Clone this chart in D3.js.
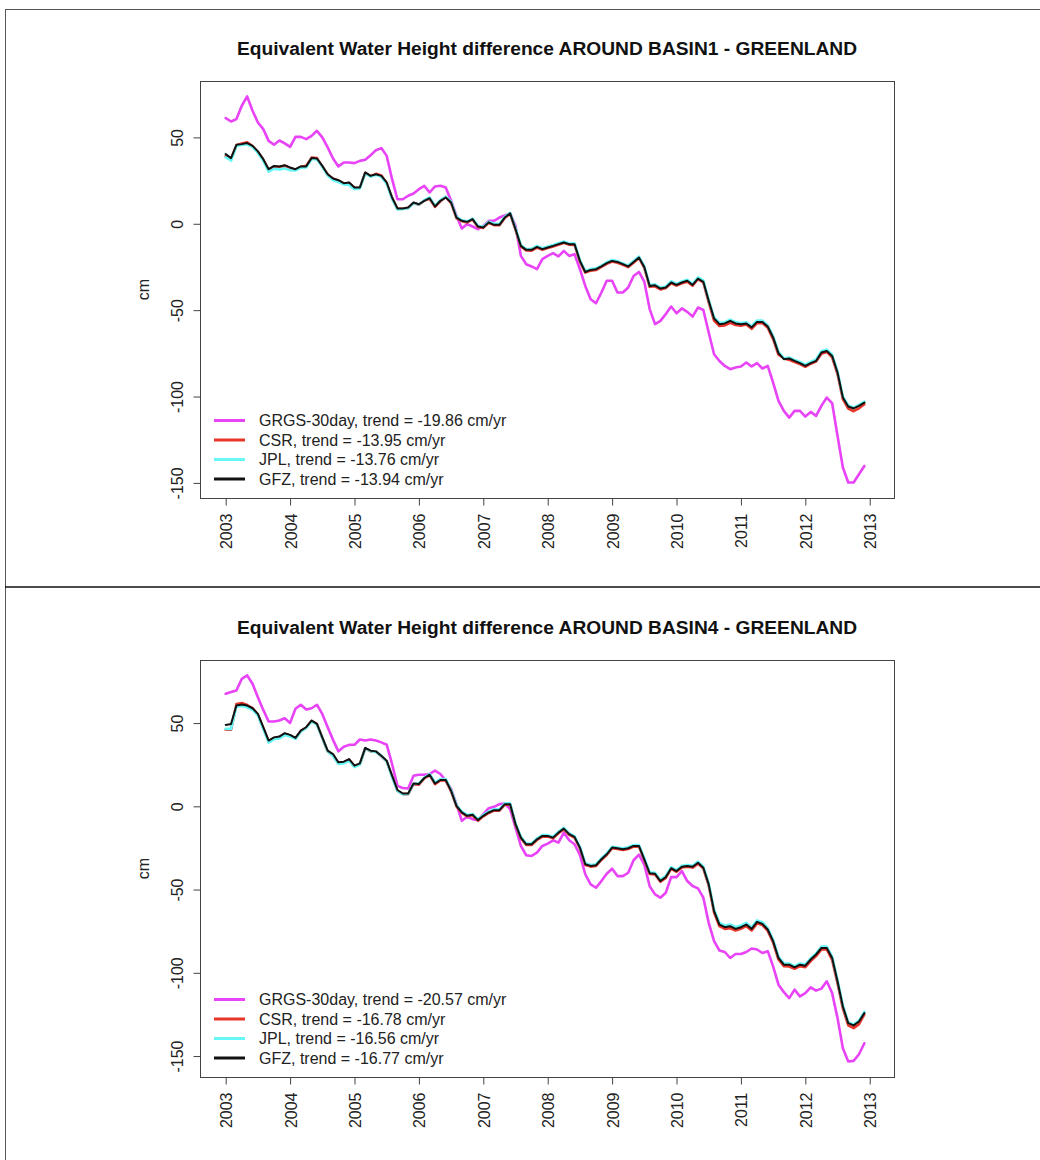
<!DOCTYPE html>
<html><head><meta charset="utf-8">
<script src="https://cdn.jsdelivr.net/npm/d3@7"></script>
<style>body{margin:0;background:#fff}svg{display:block}</style>
</head><body>
<script>
const titles = ["Equivalent Water Height difference AROUND BASIN1 - GREENLAND",
                "Equivalent Water Height difference AROUND BASIN4 - GREENLAND"];
const seriesNames = ["GRGS-30day","CSR","JPL","GFZ"];
const seriesColors = ["#e843f7","#e8352a","#66f7f7","#111111"];
const trends1 = ["-19.86","-13.95","-13.76","-13.94"];
const trends2 = ["-20.57","-16.78","-16.56","-16.77"];
const yearTicks = [2003,2004,2005,2006,2007,2008,2009,2010,2011,2012,2013];
const cmTicks = [50,0,-50,-100,-150];
const startYear = 2003;

// Basin 1 monthly values (cm), Jan 2003 .. Dec 2012
const b1_GRGS = [61.1,59.2,60.6,68.3,73.7,65.4,58.6,54.8,48.0,45.7,48.2,46.5,
44.5,50.3,50.3,49.0,50.9,53.8,50.0,44.2,37.8,33.2,35.5,35.5,
35.1,36.4,37.0,39.7,42.6,43.8,39.3,25.8,14.2,14.2,16.2,17.5,
20.0,21.9,18.1,21.6,22.0,21.0,13.3,4.6,-2.7,-0.2,-1.6,-3.1,
-1.2,1.7,1.7,3.6,4.8,6.0,-1.2,-18.6,-23.4,-24.7,-26.3,-20.5,
-18.6,-17.0,-18.9,-15.7,-18.6,-17.6,-26.3,-36.0,-43.7,-46.0,-39.8,-33.0,
-33.0,-39.8,-39.8,-36.9,-30.2,-27.9,-33.5,-49.4,-58.1,-56.2,-52.3,-47.9,
-51.8,-49.0,-51.0,-53.7,-48.5,-49.9,-62.9,-75.5,-79.4,-82.3,-84.2,-83.2,
-82.6,-80.3,-82.6,-80.7,-83.8,-82.3,-91.9,-102.5,-108.3,-112.2,-108.3,-108.3,
-111.6,-108.9,-111.2,-105.4,-100.6,-103.9,-122.8,-141.1,-149.8,-149.8,-145.0,-140.2];
const b1_CSR = [39.0,37.5,45.5,46.5,47.2,45.0,41.5,37.0,31.0,33.0,32.8,33.5,
32.2,31.2,33.0,33.5,38.3,38.0,33.2,28.5,26.0,25.0,23.2,23.6,
20.7,20.8,29.5,27.5,28.9,27.9,23.5,15.0,8.6,8.7,9.2,12.0,
11.0,13.5,14.5,9.8,13.0,15.5,12.0,3.3,1.5,0.8,2.5,-1.8,
-2.4,0.5,-0.8,-0.9,3.3,5.8,-3.5,-13.2,-15.5,-15.6,-13.8,-15.0,
-14.0,-13.1,-12.2,-11.0,-12.1,-12.2,-21.9,-28.3,-27.1,-26.8,-25.0,-23.2,
-21.9,-22.6,-23.8,-25.1,-22.5,-19.8,-25.5,-36.5,-36.2,-38.0,-37.2,-34.5,
-35.8,-34.5,-33.5,-35.8,-32.0,-34.0,-45.5,-56.0,-59.2,-58.8,-57.3,-58.6,
-59.0,-58.3,-60.8,-57.5,-57.4,-60.2,-66.8,-75.8,-77.8,-78.8,-80.0,-81.2,
-82.8,-81.0,-79.8,-75.2,-74.2,-77.3,-87.0,-101.5,-107.0,-108.5,-106.8,-104.5];
const b1_JPL = [38.5,36.5,45.0,45.6,46.0,44.5,41.0,36.5,30.2,31.8,31.5,32.0,
31.0,30.8,32.5,32.6,37.5,37.2,33.0,28.0,25.3,24.2,22.8,22.5,
20.0,20.4,29.2,27.2,28.3,27.2,23.2,14.5,8.3,8.5,9.0,12.0,
11.2,13.6,15.2,10.5,13.7,15.6,12.8,4.0,2.0,1.4,3.0,-1.2,
-1.7,1.2,0.0,0.0,4.0,6.3,-2.6,-12.3,-14.6,-14.6,-12.8,-14.2,
-13.2,-12.3,-11.3,-10.3,-11.4,-11.3,-21.0,-27.4,-26.2,-25.8,-24.2,-22.3,
-21.0,-21.6,-22.9,-24.2,-21.6,-19.0,-24.5,-35.5,-35.0,-37.0,-36.3,-33.3,
-34.8,-33.4,-32.4,-34.8,-31.0,-32.8,-44.0,-54.2,-57.3,-57.0,-55.5,-56.9,
-57.4,-57.0,-59.3,-56.0,-56.0,-58.8,-65.0,-74.2,-77.8,-77.4,-78.8,-80.0,
-81.6,-80.0,-78.6,-73.8,-72.8,-75.8,-85.4,-100.0,-105.2,-106.4,-104.8,-103.0];
const b1_GFZ = [40.3,38.0,45.7,46.1,46.7,45.1,41.9,37.4,31.6,33.5,33.2,33.9,
32.6,31.6,33.2,33.2,38.0,37.8,33.5,28.7,26.2,25.2,23.5,23.9,
21.0,21.0,29.7,27.7,28.7,27.7,23.9,15.2,8.9,8.9,9.4,12.3,
11.3,13.3,14.8,10.0,13.3,15.2,12.3,3.6,1.7,1.1,2.7,-1.6,
-2.1,0.8,-0.6,-0.6,3.6,6.0,-3.1,-12.8,-15.1,-15.1,-13.4,-14.7,
-13.7,-12.8,-11.8,-10.8,-11.8,-11.8,-21.5,-27.9,-26.7,-26.3,-24.7,-22.8,
-21.5,-22.1,-23.4,-24.7,-22.1,-19.5,-25.0,-36.0,-35.6,-37.5,-36.9,-34.0,
-35.4,-34.0,-33.0,-35.4,-31.7,-33.6,-44.6,-54.8,-58.1,-57.7,-56.2,-57.7,
-58.1,-57.7,-60.0,-56.8,-56.8,-59.5,-65.8,-74.9,-78.4,-78.0,-79.4,-80.7,
-82.3,-80.7,-79.4,-74.5,-73.6,-76.5,-86.1,-100.6,-105.8,-106.9,-105.4,-103.5];

// Basin 4 monthly values (cm)
const b4_GRGS = [67.6,68.6,69.6,76.6,78.6,73.6,65.5,57.9,50.9,50.9,51.5,52.9,
50.1,58.6,61.0,58.1,58.9,61.0,55.5,47.5,39.9,33.0,35.8,36.9,
37.0,40.1,39.5,40.1,39.5,38.4,37.0,25.4,12.3,11.0,10.7,18.4,
19.0,19.0,19.4,21.4,19.4,15.4,10.4,1.3,-8.7,-6.3,-7.7,-8.3,
-4.7,-1.1,-0.3,1.3,1.7,-1.7,-12.8,-23.8,-29.4,-29.8,-27.8,-23.8,
-22.4,-20.4,-21.8,-15.8,-20.4,-22.8,-29.2,-40.8,-46.9,-48.9,-44.9,-40.5,
-37.5,-41.9,-41.9,-39.9,-32.4,-29.0,-35.0,-48.0,-52.9,-54.9,-51.9,-42.5,
-42.5,-38.9,-44.9,-47.9,-49.3,-54.9,-70.0,-81.0,-86.6,-87.5,-91.1,-88.7,
-88.7,-87.5,-85.4,-86.0,-88.1,-87.0,-96.1,-107.1,-111.6,-115.2,-110.1,-114.2,
-112.2,-108.7,-110.7,-109.5,-105.1,-112.2,-127.2,-145.3,-153.3,-152.9,-148.9,-142.3];
const b4_CSR = [46.0,46.0,61.5,62.0,60.8,59.0,55.0,47.0,39.0,41.0,41.5,43.5,
42.5,40.8,45.3,47.3,51.3,49.5,41.0,33.0,30.5,25.8,26.3,28.0,
24.0,25.3,34.8,33.0,32.8,30.0,27.0,18.0,9.3,7.3,7.3,13.3,
13.0,16.7,18.7,13.3,15.5,15.5,9.0,0.0,-4.0,-6.0,-5.4,-8.6,
-6.0,-4.0,-2.6,-2.6,1.0,1.0,-11.0,-19.2,-23.2,-23.2,-20.2,-18.2,
-18.2,-19.2,-16.2,-13.8,-17.1,-18.8,-25.2,-35.2,-36.2,-35.8,-32.2,-29.2,
-25.2,-25.6,-26.2,-25.6,-24.2,-24.2,-32.2,-40.6,-41.0,-45.3,-43.0,-37.6,
-39.3,-36.8,-36.3,-36.8,-34.4,-37.4,-47.5,-63.8,-72.0,-73.6,-73.2,-74.6,
-73.6,-72.0,-74.5,-70.3,-71.3,-74.8,-81.8,-92.0,-96.0,-96.2,-97.6,-96.0,
-96.6,-93.0,-90.0,-86.0,-86.0,-92.3,-106.3,-121.5,-131.5,-133.2,-130.8,-125.0];
const b4_JPL = [46.5,46.5,60.0,60.3,59.5,58.0,54.5,46.5,38.3,40.3,40.8,42.8,
42.0,40.5,45.0,47.0,51.0,49.0,41.0,33.0,30.2,25.5,25.8,27.3,
23.5,25.0,34.8,33.1,32.7,30.2,27.0,17.5,9.3,7.2,7.4,13.6,
13.6,17.3,19.4,14.3,16.3,16.4,9.8,0.8,-3.2,-5.2,-4.6,-7.8,
-5.2,-3.2,-1.8,-1.8,1.8,1.8,-10.2,-18.3,-22.3,-22.3,-19.3,-17.3,
-17.3,-18.3,-15.3,-12.9,-16.2,-17.9,-24.3,-34.2,-35.2,-34.8,-31.2,-28.3,
-24.3,-24.7,-25.2,-24.6,-23.2,-23.2,-31.2,-39.6,-39.9,-44.2,-41.8,-36.6,
-38.3,-35.7,-35.2,-35.7,-33.2,-36.2,-46.2,-62.0,-70.0,-71.6,-71.0,-72.5,
-71.6,-70.0,-72.6,-68.5,-69.6,-73.2,-80.2,-90.3,-94.3,-94.4,-96.0,-94.4,
-94.9,-91.3,-88.3,-84.3,-84.3,-90.3,-104.3,-119.6,-129.6,-131.0,-128.6,-123.5];
const b4_GFZ = [48.9,49.5,60.5,61.1,60.5,58.9,55.5,47.5,39.5,41.4,41.9,43.9,
42.9,41.1,45.5,47.5,51.5,49.5,41.4,33.4,31.4,26.4,26.8,28.4,
24.4,25.8,35.1,33.4,33.0,30.4,27.4,18.4,9.8,7.7,7.7,13.7,
13.4,17.0,19.0,13.7,15.8,15.8,9.3,0.3,-3.7,-5.7,-5.1,-8.3,
-5.7,-3.7,-2.3,-2.3,1.3,1.3,-10.7,-18.8,-22.8,-22.8,-19.8,-17.8,
-17.8,-18.8,-15.8,-13.4,-16.7,-18.4,-24.8,-34.8,-35.8,-35.4,-31.8,-28.8,
-24.8,-25.2,-25.8,-25.2,-23.8,-23.8,-31.8,-40.2,-40.5,-44.9,-42.5,-37.2,
-38.9,-36.3,-35.8,-36.3,-33.9,-36.9,-46.9,-62.9,-71.0,-72.6,-72.0,-73.6,
-72.6,-71.0,-73.6,-69.4,-70.6,-74.0,-81.0,-91.1,-95.1,-95.1,-96.7,-95.1,
-95.7,-92.0,-89.0,-85.1,-85.1,-91.1,-105.1,-120.2,-130.2,-131.6,-129.2,-124.2];

const panels = [
  {title: titles[0], series: [b1_GRGS,b1_CSR,b1_JPL,b1_GFZ], trends: trends1, dy: 0},
  {title: titles[1], series: [b4_GRGS,b4_CSR,b4_JPL,b4_GFZ], trends: trends2, dy: 579}
];

const W = 1040, H = 1160;
const FONT = "'Liberation Sans', Arial, Helvetica, sans-serif";
const svg = d3.select("body").append("svg").attr("width", W).attr("height", H)
  .style("font-family", FONT);

// outer frame
svg.append("line").attr("x1",5).attr("x2",W).attr("y1",9.5).attr("y2",9.5).attr("stroke","#555").attr("stroke-width",1);
svg.append("line").attr("x1",5.5).attr("x2",5.5).attr("y1",9).attr("y2",H).attr("stroke","#555").attr("stroke-width",1);
svg.append("line").attr("x1",5).attr("x2",W).attr("y1",587).attr("y2",587).attr("stroke","#111").attr("stroke-width",1.6);

const box = {left: 200, right: 894, top: 81, bottom: 498};

panels.forEach(p => {
  const g = svg.append("g").attr("transform", `translate(0,${p.dy})`);
  const times = p.series[0].map((_, i) => startYear + i / 12);
  const x = d3.scaleLinear().domain([2002.601, 2013.377]).range([box.left, box.right]);
  const all = p.series.flat();
  const lo = d3.min(all), hi = d3.max(all), pad = (hi - lo) * 0.04;
  const y = d3.scaleLinear().domain([lo - pad, hi + pad]).range([box.bottom, box.top]);

  // title
  g.append("text").attr("x", 547).attr("y", 55).attr("text-anchor","middle")
    .attr("font-weight","bold").attr("font-size","19.2px").attr("fill","#111").text(p.title);

  // lines
  const line = d3.line().x((d,i) => x(times[i])).y(d => y(d));
  p.series.forEach((s, si) => {
    g.append("path").datum(s).attr("d", line).attr("fill","none")
      .attr("stroke", seriesColors[si]).attr("stroke-width", si === 3 ? 2 : 2.6)
      .attr("stroke-linejoin","round").attr("stroke-linecap","round");
  });

  // box
  g.append("rect").attr("x", box.left+0.5).attr("y", box.top+0.5)
    .attr("width", box.right-box.left).attr("height", box.bottom-box.top)
    .attr("fill","none").attr("stroke","#444").attr("stroke-width",1);

  // y axis
  const ya = g.append("g").attr("transform", `translate(${box.left+0.5},0)`)
    .call(d3.axisLeft(y).tickValues(cmTicks).tickSize(7).tickFormat(d3.format("d")));
  ya.select(".domain").attr("d", `M0,${y(cmTicks[0])}V${y(cmTicks[cmTicks.length-1])}`).attr("stroke","#444");
  ya.selectAll(".tick line").attr("stroke","#444");
  ya.selectAll(".tick text").attr("font-size","16px").attr("fill","#222")
    .attr("font-family", FONT)
    .attr("x", 0).attr("dy", null).attr("text-anchor","middle")
    .attr("transform", "translate(-18,0) rotate(-90)").attr("y", 0)
    .text(d => d < 0 ? "-" + Math.abs(d) : d);

  // x axis
  const xa = g.append("g").attr("transform", `translate(0,${box.bottom+0.5})`)
    .call(d3.axisBottom(x).tickValues(yearTicks).tickSize(7).tickFormat(d3.format("d")));
  xa.select(".domain").attr("d", `M${x(yearTicks[0])},0H${x(yearTicks[yearTicks.length-1])}`).attr("stroke","#444");
  xa.selectAll(".tick line").attr("stroke","#444");
  xa.selectAll(".tick text").attr("font-size","16px").attr("fill","#222")
    .attr("font-family", FONT)
    .attr("y", 0).attr("dy", null).attr("text-anchor","end")
    .attr("transform", "translate(6,15) rotate(-90)");

  // y label
  g.append("text").attr("transform", `translate(149,${(box.top+box.bottom)/2}) rotate(-90)`)
    .attr("text-anchor","middle").attr("font-size","16px").attr("fill","#222").text("cm");

  // legend
  const lg = g.append("g");
  seriesNames.forEach((n, i) => {
    const yy = 420.5 + i * 19.5;
    lg.append("line").attr("x1",214).attr("x2",245).attr("y1",yy).attr("y2",yy)
      .attr("stroke", seriesColors[i]).attr("stroke-width", 3);
    lg.append("text").attr("x",259).attr("y",yy).attr("dy","0.36em")
      .attr("font-size","16px").attr("fill","#222")
      .text(`${n}, trend = ${p.trends[i]} cm/yr`);
  });
});
</script>
</body></html>
